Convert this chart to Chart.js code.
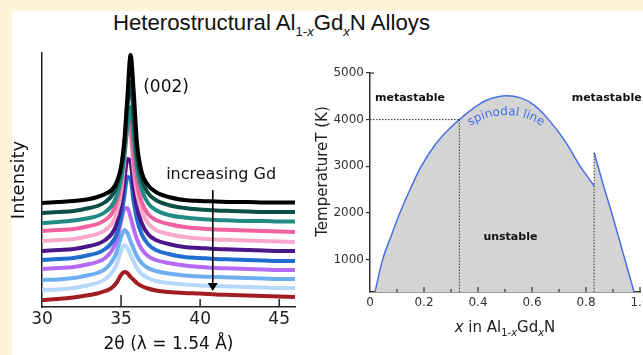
<!DOCTYPE html>
<html><head><meta charset="utf-8">
<script src="https://cdn.jsdelivr.net/npm/chart.js@4.4.1/dist/chart.umd.min.js"></script>
<style>
html,body{margin:0;padding:0;width:643px;height:355px;overflow:hidden;background:#FFF5D6;}
#panel{position:absolute;left:12px;top:11px;width:631px;height:344px;background:#ffffff;}
#title{position:absolute;left:113px;top:12px;font-family:"Liberation Sans Narrow","Liberation Sans",sans-serif;font-size:22px;line-height:22px;white-space:nowrap;color:#111;transform-origin:0 0;}
#title sub{font-size:13px;vertical-align:-6px;line-height:0;}
#cL{position:absolute;left:0;top:0;}
#cR{position:absolute;left:300px;top:0;}
</style></head>
<body>
<div id="panel"></div>
<div id="title">Heterostructural Al<sub>1-<i>x</i></sub>Gd<sub><i>x</i></sub>N Alloys</div>
<canvas id="cL" width="305" height="355"></canvas>
<canvas id="cR" width="343" height="355"></canvas>
<script>
// ---------- data: XRD patterns (offset stacked, arbitrary units) ----------
const theta = [30,31,32,33,33.5,34,34.4,34.7,35,35.2,35.4,35.6,35.8,36,36.3,36.7,37.2,38,39,40,41,42,43,44,45,46];
const xrdBlack     = [104,105,106,108,110,113,117,124,140,165,210,252,215,165,135,122,115,110,107,106,105.5,105,105,104.5,104.5,104.5];
const xrdDarkTeal  = [94,95,96,99,101,105,111,120,138,162,200,225,190,152,128,114,107,102,99,97.5,96.5,96,95.5,95,95,95];
const xrdTeal      = [84,85,86.5,89,91,95,101,110,128,150,180,200,170,140,118,104,97,92,89.5,88,87,86.5,86,86,85.5,85.5];
const xrdHotPink   = [76,77,78,81,83,87,93,103,125,155,188,182,148,124,105,93,87,83,80,78.5,77.5,77,76.5,76,75.5,75];
const xrdLightPink = [66,67,68,71,73,77,83,93,115,145,178,172,138,115,96,84,77,73,70,68.5,67.5,67,66.5,66,65.5,65];
const xrdIndigo    = [56,57,58,61,63,67,73,82,102,125,148,145,118,100,84,73,67,63,60,59,58,57.5,57,56.5,56,56];
const xrdBlue      = [47,48,49,52,54,58,64,72,90,110,130,128,105,88,73,63,57,53,50,49,48,47.5,47,46.5,46,46];
const xrdLavender  = [38,39,40,43,45,49,56,66,86,98,99,90,78,68,58,51,47,44,41.5,40,39,38.5,38,37.5,37,37];
const xrdLightBlue = [27,27.5,29,32,34,38,45,54,70,77,74,66,58,51,44,39,36,33.5,31.5,30.5,30,29.5,29,28.5,28,28];
const xrdPaleBlue  = [17,17.5,19,22,24,28,34,42,56,62,59,52,45,39,33,29,26,24,22.5,21.5,21,20.5,20,19.5,19,19];
const xrdDarkRed   = [7,8,9.5,12,13.5,16,19,24,32,35,34,30,27,24,21,18.5,16.5,15,14,13.5,12.5,12,11.5,11,10.5,10];
const xrdSeries = [xrdBlack,xrdDarkTeal,xrdTeal,xrdHotPink,xrdLightPink,xrdIndigo,xrdBlue,xrdLavender,xrdLightBlue,xrdPaleBlue,xrdDarkRed];
const xrdTicks = [30,35,40,45];

// ---------- data: spinodal phase diagram ----------
const spinLeftX = [0.0185,0.047,0.08,0.111,0.15,0.19,0.24,0.29,0.331,0.38,0.43,0.5,0.56,0.61,0.66,0.72,0.778,0.83];
const spinLeftT = [300,1000,1530,2000,2520,3000,3450,3780,4000,4230,4410,4510,4460,4300,4010,3560,3000,2580];
const spinRightX = [0.83,0.87,0.895,0.944,0.978];
const spinRightT = [3290,2480,2000,1000,300];
const guideHX = [0,0.331];    const guideHT = [4000,4000];
const guideV1X = [0.331,0.331]; const guideV1T = [4000,300];
const guideV2X = [0.83,0.83];  const guideV2T = [3290,300];
const tempTicks = [1000,2000,3000,4000,5000];
const compTicks = [0,0.1,0.2,0.3,0.4,0.5,0.6,0.7,0.8,0.9,1.0];
const compTickLabels = ['0','','0.2','','0.4','','0.6','','0.8','','1.0'];

// ---------- styles ----------
const xrdColors = ['#000000','#0c4f47','#1f8b83','#f0619f','#f8a8cb','#4a168a','#1f6fcf','#b36bf3','#6eaff1','#b6d8fa','#a21d21'];
const spinBlue = '#4470e6';
const F = '"DejaVu Sans", sans-serif';

// fit title width
(function(){const el=document.getElementById('title');const w=el.getBoundingClientRect().width;el.style.transform='scaleX('+(317/w)+')';})();

const pts = (xs, ys) => xs.map((v,i)=>({x:v, y:ys[i]}));

// ---------- left chart ----------
const leftDeco = {
  id:'leftDeco',
  afterDatasetsDraw(chart){
    const {ctx, scales:{x,y}, chartArea} = chart;
    ctx.save();
    ctx.strokeStyle='#222'; ctx.lineWidth=1.5;
    xrdTicks.forEach(v=>{
      if (v===30) return;
      const px = x.getPixelForValue(v);
      const len = v===35 ? 12 : 8;
      ctx.beginPath(); ctx.moveTo(px, chartArea.bottom); ctx.lineTo(px, chartArea.bottom-len); ctx.stroke();
    });
    ctx.fillStyle='#111'; ctx.font='17px '+F; ctx.textBaseline='middle'; ctx.textAlign='left';
    ctx.fillText('(002)', x.getPixelForValue(36.4), y.getPixelForValue(219));
    ctx.font='16px '+F;
    ctx.fillText('increasing Gd', x.getPixelForValue(37.85), y.getPixelForValue(132));
    // arrow
    const ax = x.getPixelForValue(40.8), ay1 = y.getPixelForValue(117), ay2 = y.getPixelForValue(16);
    ctx.strokeStyle='#000'; ctx.lineWidth=1.6;
    ctx.beginPath(); ctx.moveTo(ax, ay1); ctx.lineTo(ax, ay2-7); ctx.stroke();
    ctx.fillStyle='#000';
    ctx.beginPath(); ctx.moveTo(ax-5, ay2-8); ctx.lineTo(ax+5, ay2-8); ctx.lineTo(ax, ay2); ctx.closePath(); ctx.fill();
    ctx.restore();
  }
};

new Chart(document.getElementById('cL'), {
  type:'line',
  data:{datasets: xrdSeries.map((s,i)=>({
    data: pts(theta, s), borderColor: xrdColors[i], borderWidth: 4, pointRadius: 0,
    cubicInterpolationMode:'monotone', fill:false
  }))},
  options:{
    responsive:false, animation:false, devicePixelRatio:1,
    layout:{padding:{left:0,right:10,top:53,bottom:0}},
    plugins:{legend:{display:false}, tooltip:{enabled:false}},
    scales:{
      x:{type:'linear', min:30, max:46,
        afterBuildTicks:(s)=>{s.ticks = xrdTicks.map(v=>({value:v}));},
        afterFit:(s)=>{s.height=48; s.paddingLeft=0; s.paddingRight=0;},
        grid:{display:false, drawTicks:false},
        border:{color:'#222', width:1.5},
        ticks:{color:'#222', font:{family:F, size:17}, padding:2, maxRotation:0, autoSkip:false},
        title:{display:true, text:'2θ (λ = 1.54 Å)', color:'#111', font:{family:F, size:17}, padding:{top:0,bottom:0}}
      },
      y:{type:'linear', min:0, max:254,
        afterFit:(s)=>{s.width=42; s.paddingTop=0; s.paddingBottom=0;},
        ticks:{display:false}, grid:{display:false, drawTicks:false},
        border:{color:'#222', width:1.5},
        title:{display:true, text:'Intensity', color:'#111', font:{family:F, size:18}, padding:{top:9,bottom:0}}
      }
    }
  },
  plugins:[leftDeco]
});

// ---------- right chart ----------
const rightDeco = {
  id:'rightDeco',
  afterDatasetsDraw(chart){
    const {ctx, scales:{x,y}, chartArea} = chart;
    ctx.save();
    // inward ticks on composition axis
    ctx.strokeStyle='#333'; ctx.lineWidth=1.2;
    compTicks.forEach((v,i)=>{
      if (i===0) return;
      const px = x.getPixelForValue(v);
      const len = i%2===0 ? 5 : 3;
      ctx.beginPath(); ctx.moveTo(px, chartArea.bottom); ctx.lineTo(px, chartArea.bottom-len); ctx.stroke();
    });
    // top stub
    ctx.beginPath(); ctx.moveTo(chartArea.left, chartArea.top); ctx.lineTo(chartArea.left+4, chartArea.top); ctx.stroke();
    // region labels
    ctx.fillStyle='#111'; ctx.font='bold 11px '+F; ctx.textBaseline='middle'; ctx.textAlign='left';
    ctx.fillText('metastable', x.getPixelForValue(0.0185), y.getPixelForValue(4470));
    ctx.fillText('metastable', x.getPixelForValue(0.747), y.getPixelForValue(4470));
    ctx.textAlign='center';
    ctx.fillText('unstable', x.getPixelForValue(0.52), y.getPixelForValue(1487));
    // curved "spinodal line"
    const txt='spinodal line';
    ctx.font='12px '+F; ctx.fillStyle=spinBlue; ctx.textBaseline='alphabetic';
    const cx = x.getPixelForValue(0.504), cy = y.getPixelForValue(2700), R = 65;
    const W = ctx.measureText(txt).width;
    let s = -W/2;
    for (const ch of txt){
      const cw = ctx.measureText(ch).width;
      const a = -Math.PI/2 + (s + cw/2)/R;
      ctx.save();
      ctx.translate(cx + R*Math.cos(a), cy + R*Math.sin(a));
      ctx.rotate(a + Math.PI/2);
      ctx.textAlign='center';
      ctx.fillText(ch, 0, 0);
      ctx.restore();
      s += cw;
    }
    ctx.restore();
  },
  afterDraw(chart){
    const {ctx, chartArea} = chart;
    ctx.save();
    ctx.fillStyle='#222';
    // y title
    ctx.font='15px '+F; ctx.textAlign='center'; ctx.textBaseline='middle';
    ctx.translate(23, 171.5); ctx.rotate(-Math.PI/2);
    ctx.fillText('TemperatureT (K)', 0, 0);
    ctx.setTransform(1,0,0,1,0,0);
    // x title rich text
    const parts = [
      {t:'x', f:'italic 15px '+F, dy:0},
      {t:' in Al', f:'15px '+F, dy:0},
      {t:'1-', f:'10px '+F, dy:4},
      {t:'x', f:'italic 10px '+F, dy:4},
      {t:'Gd', f:'15px '+F, dy:0},
      {t:'x', f:'italic 10px '+F, dy:4},
      {t:'N', f:'15px '+F, dy:0}
    ];
    let tw = 0; parts.forEach(p=>{ctx.font=p.f; p.w=ctx.measureText(p.t).width; tw+=p.w;});
    let px = (chartArea.left+chartArea.right)/2 - tw/2;
    ctx.textAlign='left'; ctx.textBaseline='alphabetic';
    parts.forEach(p=>{ctx.font=p.f; ctx.fillText(p.t, px, 332+p.dy); px+=p.w;});
    ctx.restore();
  }
};

const dotted = {borderColor:'#333', borderWidth:1, borderDash:[1.5,1.5], pointRadius:0, fill:false, order:0};
new Chart(document.getElementById('cR'), {
  type:'line',
  data:{datasets:[
    Object.assign({data:pts(guideHX, guideHT)}, dotted),
    Object.assign({data:pts(guideV1X, guideV1T)}, dotted),
    Object.assign({data:pts(guideV2X, guideV2T)}, dotted),
    {data:pts(spinLeftX, spinLeftT), borderColor:spinBlue, borderWidth:1.5, backgroundColor:'#d4d4d4', fill:'start', pointRadius:0, tension:0.35, order:1},
    {data:pts(spinRightX, spinRightT), borderColor:spinBlue, borderWidth:1.5, backgroundColor:'#d4d4d4', fill:'start', pointRadius:0, tension:0, order:1}
  ]},
  options:{
    responsive:false, animation:false, devicePixelRatio:1,
    layout:{padding:{left:0,right:3,top:73,bottom:0}},
    plugins:{legend:{display:false}, tooltip:{enabled:false}},
    scales:{
      x:{type:'linear', min:0, max:1,
        afterBuildTicks:(s)=>{s.ticks = compTicks.map(v=>({value:v}));},
        afterFit:(s)=>{s.height=63; s.paddingLeft=0; s.paddingRight=0;},
        grid:{display:false, drawTicks:false},
        border:{color:'#333', width:1.5},
        ticks:{color:'#333', font:{family:F, size:12}, padding:4, maxRotation:0, autoSkip:false,
          callback:(v,i)=>compTickLabels[i]}
      },
      y:{type:'linear', min:300, max:5000,
        afterBuildTicks:(s)=>{s.ticks = tempTicks.map(v=>({value:v}));},
        afterFit:(s)=>{s.width=70;},
        grid:{display:true, drawOnChartArea:false, drawTicks:true, tickLength:4, color:'#333', lineWidth:1.2},
        border:{color:'#333', width:1.5},
        ticks:{color:'#333', font:{family:F, size:12}, padding:2, autoSkip:false, callback:(v)=>String(v)}
      }
    }
  },
  plugins:[rightDeco]
});
</script>
</body></html>
